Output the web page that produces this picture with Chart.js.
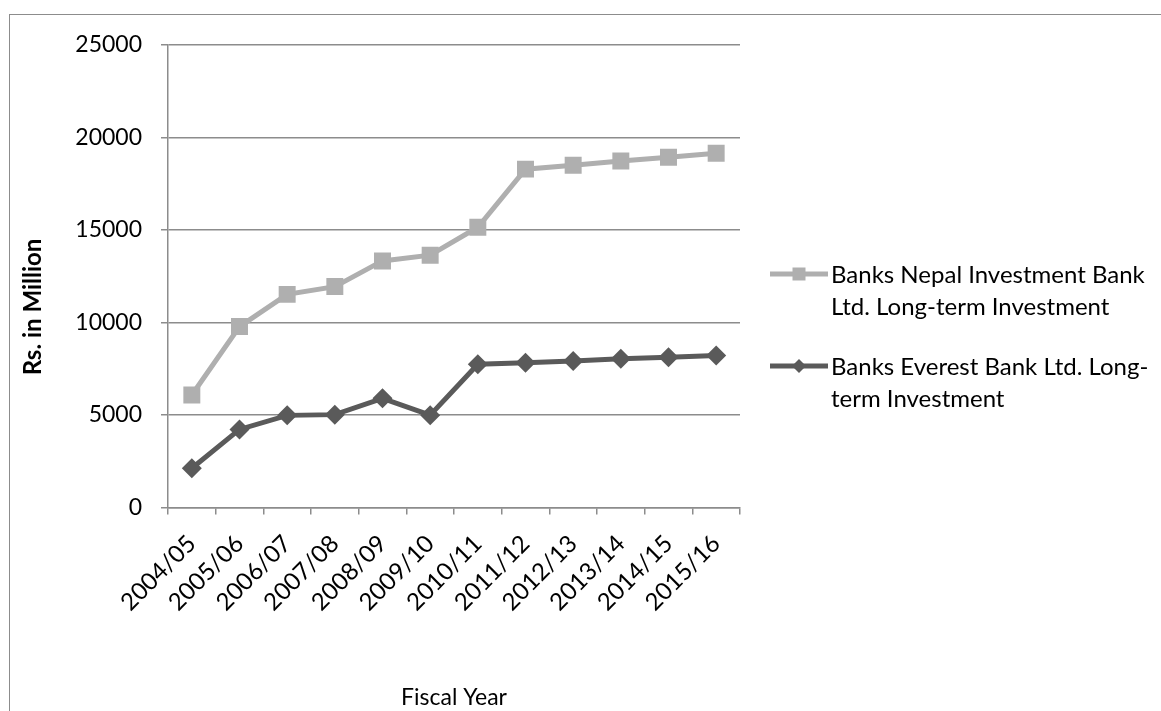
<!DOCTYPE html>
<html><head><meta charset="utf-8">
<script src="https://cdn.jsdelivr.net/npm/chart.js@4/dist/chart.umd.min.js"></script>
<style>
html,body{margin:0;padding:0;background:#fff;}
#wrap{position:relative;width:1161px;height:711px;overflow:hidden;}
#frame{position:absolute;left:9px;top:14px;width:1200px;height:800px;border:1.5px solid #8c8c8c;}
canvas{position:absolute;left:0;top:0;}
</style></head><body>
<div id="wrap"><div id="frame"></div><canvas id="c" width="1161" height="711"></canvas></div>
<script>
const categories = ["2004/05","2005/06","2006/07","2007/08","2008/09","2009/10","2010/11","2011/12","2012/13","2013/14","2014/15","2015/16"];
const nepalValues = [6080, 9780, 11520, 11940, 13330, 13640, 15150, 18290, 18500, 18730, 18930, 19150];
const everestValues = [2120, 4220, 4980, 5020, 5900, 4990, 7740, 7830, 7920, 8040, 8120, 8210];
const yTicks = [0, 5000, 10000, 15000, 20000, 25000];
const nepalLabel = ["Banks Nepal Investment Bank", "Ltd. Long-term Investment"];
const everestLabel = ["Banks Everest Bank Ltd. Long-", "term Investment"];
const xTitle = "Fiscal Year";
const yTitle = "Rs. in Million";

const FONT = "Lato, 'Open Sans', sans-serif";
const AXIS = "#8c8c8c";
const NEPAL = "#afafaf";
const EVEREST = "#5a5a5a";

const overlay = {
  id: 'overlay',
  afterDraw(chart) {
    const ctx = chart.ctx;
    ctx.save();
    ctx.font = "bold 24px " + FONT;
    ctx.fillStyle = "#000";
    ctx.textAlign = "center";
    ctx.textBaseline = "middle";
    ctx.translate(33, 307);
    ctx.rotate(-Math.PI / 2);
    ctx.fillText(yTitle, 0, 0);
    ctx.restore();

    const entries = [
      {lines: nepalLabel, color: NEPAL, style: 'rect', y: 274},
      {lines: everestLabel, color: EVEREST, style: 'rectRot', y: 366}
    ];
    ctx.save();
    ctx.font = "24px " + FONT;
    entries.forEach(e => {
      ctx.strokeStyle = e.color;
      ctx.lineWidth = 5;
      ctx.beginPath();
      ctx.moveTo(770, e.y);
      ctx.lineTo(828, e.y);
      ctx.stroke();
      ctx.fillStyle = e.color;
      const cx = 799;
      if (e.style === 'rect') {
        ctx.fillRect(cx - 6.5, e.y - 6.5, 13, 13);
      } else {
        ctx.beginPath();
        ctx.moveTo(cx, e.y - 7);
        ctx.lineTo(cx + 7, e.y);
        ctx.lineTo(cx, e.y + 7);
        ctx.lineTo(cx - 7, e.y);
        ctx.closePath();
        ctx.fill();
      }
      ctx.fillStyle = "#000";
      ctx.textAlign = "left";
      ctx.textBaseline = "middle";
      e.lines.forEach((t, i) => ctx.fillText(t, 831, e.y + 1 + i * 32));
    });
    ctx.restore();
  }
};

new Chart(document.getElementById('c'), {
  type: 'line',
  data: {
    labels: categories,
    datasets: [
      {label: nepalLabel.join(" "), data: nepalValues, borderColor: NEPAL, backgroundColor: NEPAL,
       borderWidth: 5, pointStyle: 'rect', pointRadius: 12, pointBorderWidth: 0, tension: 0},
      {label: everestLabel.join(""), data: everestValues, borderColor: EVEREST, backgroundColor: EVEREST,
       borderWidth: 5, pointStyle: 'rectRot', pointRadius: 10, pointBorderWidth: 0, tension: 0}
    ]
  },
  options: {
    responsive: false,
    animation: false,
    devicePixelRatio: 1,
    layout: {padding: {top: 45, right: 421, left: 0, bottom: 0}},
    plugins: {legend: {display: false}, tooltip: {enabled: false}},
    scales: {
      x: {
        offset: true,
        grid: {display: true, drawOnChartArea: false, offset: true, color: AXIS, lineWidth: 1.5, tickLength: 7},
        border: {color: AXIS, width: 1.5},
        ticks: {color: "#000", font: {family: FONT, size: 24}, minRotation: 45, maxRotation: 45, padding: 15, autoSkip: false},
        title: {display: true, text: xTitle, color: "#000", font: {family: FONT, size: 23}, padding: {top: 0, bottom: 0}},
        afterFit(scale) { scale.height = 711 - 507.5; }
      },
      y: {
        min: 0, max: 25000,
        afterBuildTicks(scale) { scale.ticks = yTicks.map(v => ({value: v})); },
        grid: {color: AXIS, lineWidth: 1.5, tickLength: 7},
        border: {color: AXIS, width: 1.5},
        ticks: {color: "#000", font: {family: FONT, size: 23}, padding: 19, callback: v => String(v)},
        afterFit(scale) { scale.width = 168; }
      }
    }
  },
  plugins: [overlay]
});
</script>
</body></html>
